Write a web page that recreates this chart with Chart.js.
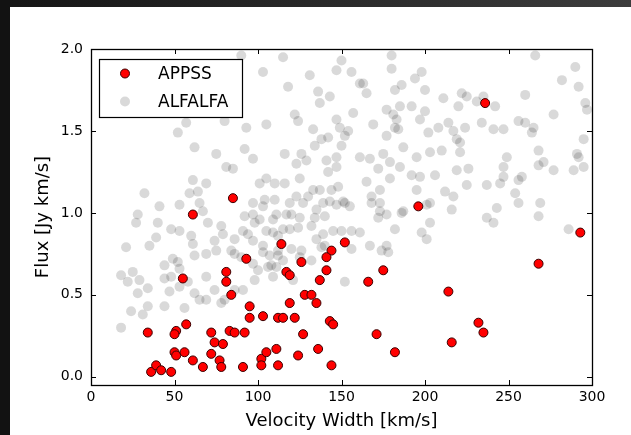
<!DOCTYPE html>
<html>
<head>
<meta charset="utf-8">
<script src="https://cdn.jsdelivr.net/npm/chart.js"></script>
<style>
  html, body { margin: 0; padding: 0; background: #fff; }
  canvas { display: block; }
</style>
</head>
<body>
<canvas id="chart" width="631" height="435"></canvas>
<script>
// APPSS (red) points
const appssWidth = [236, 61, 85, 93, 55, 81, 81, 84, 95, 95, 103, 112, 34, 51, 50, 57, 72, 83, 86, 92,
  74, 79, 50, 51, 56, 61, 72, 77, 67, 78, 91, 36, 39, 42, 48, 102, 102, 105, 111, 112,
  196, 293, 268, 214, 232, 235, 216, 171, 182, 175, 166, 152, 144, 141, 141, 137, 114, 126, 117, 119,
  128, 132, 119, 135, 115, 122, 143, 145, 127, 136, 124, 144];
const appssFlux = [1.67, 0.99, 1.09, 0.72, 0.60, 0.64, 0.58, 0.50, 0.43, 0.36, 0.37, 0.36, 0.27, 0.28, 0.26, 0.32, 0.27, 0.28, 0.27, 0.27,
  0.21, 0.20, 0.15, 0.13, 0.15, 0.10, 0.14, 0.10, 0.06, 0.06, 0.06, 0.03, 0.07, 0.04, 0.03, 0.11, 0.07, 0.15, 0.17, 0.07,
  1.04, 0.88, 0.69, 0.52, 0.33, 0.27, 0.21, 0.26, 0.15, 0.65, 0.58, 0.82, 0.77, 0.73, 0.65, 0.59, 0.81, 0.70, 0.64, 0.62,
  0.50, 0.50, 0.45, 0.45, 0.36, 0.36, 0.34, 0.32, 0.26, 0.17, 0.13, 0.07];

// ALFALFA (grey) points
const alfalfaWidth = [103, 131, 115, 90, 118, 136, 137, 143, 147, 122, 124, 133, 138, 142, 134, 116, 126, 129, 123, 141,
  147, 147, 142, 57, 52, 80, 93, 105, 62, 75, 92, 97, 81, 85, 101, 105, 110, 116, 125, 133,
  137, 130, 144, 148, 61, 69, 59, 64, 32, 41, 53, 65, 97, 104, 110, 119, 123, 139, 147, 150,
  180, 147, 156, 180, 198, 194, 161, 163, 165, 182, 186, 200, 211, 222, 225, 220, 231, 235, 242, 266,
  290, 282, 292, 260, 277, 296, 297, 157, 149, 154, 152, 150, 169, 177, 181, 183, 185, 192, 200, 197,
  182, 184, 177, 187, 202, 208, 214, 217, 224, 219, 221, 203, 210, 221, 234, 241, 247, 256, 260, 265,
  264, 295, 268, 249, 247, 247, 245, 237, 225, 226, 219, 195, 167, 161, 175, 179, 185, 172, 165, 173,
  179, 192, 197, 206, 195, 212, 151, 155, 168, 173, 217, 256, 258, 254, 256, 269, 268, 271, 277, 291,
  292, 289, 295, 243, 117, 111, 127, 135, 134, 140, 143, 152, 168, 173, 172, 177, 186, 187, 203, 201,
  216, 203, 198, 201, 182, 167, 174, 178, 177, 161, 156, 150, 156, 152, 145, 139, 135, 132, 124, 119,
  115, 125, 120, 109, 112, 120, 126, 125, 132, 107, 112, 115, 111, 109, 108, 121, 138, 140, 237, 241,
  268, 286, 28, 27, 40, 48, 53, 67, 70, 78, 79, 60, 61, 39, 21, 35, 49, 52, 44, 53,
  62, 69, 75, 84, 86, 74, 86, 91, 94, 92, 97, 98, 101, 103, 105, 109, 103, 103, 97, 90,
  97, 100, 98, 106, 112, 18, 25, 22, 29, 28, 34, 44, 48, 47, 53, 58, 62, 65, 69, 56,
  44, 34, 24, 31, 18, 74, 78, 80, 69, 86, 91];
const alfalfaFlux = [1.86, 1.84, 1.95, 1.96, 1.77, 1.74, 1.67, 1.71, 1.57, 1.60, 1.56, 1.51, 1.45, 1.46, 1.41, 1.36, 1.36, 1.32, 1.30, 1.32,
  1.34, 1.28, 1.25, 1.55, 1.49, 1.56, 1.52, 1.54, 1.40, 1.36, 1.39, 1.33, 1.28, 1.27, 1.18, 1.21, 1.18, 1.18, 1.21, 1.14,
  1.14, 1.10, 1.14, 1.16, 1.20, 1.18, 1.12, 1.13, 1.12, 1.04, 1.05, 1.06, 1.06, 1.08, 1.08, 1.06, 1.10, 1.06, 1.05, 1.93,
  1.96, 1.87, 1.86, 1.88, 1.86, 1.82, 1.79, 1.79, 1.73, 1.75, 1.78, 1.75, 1.70, 1.73, 1.71, 1.65, 1.68, 1.71, 1.65, 1.96,
  1.89, 1.81, 1.77, 1.72, 1.60, 1.67, 1.63, 1.61, 1.52, 1.50, 1.47, 1.41, 1.54, 1.63, 1.60, 1.57, 1.65, 1.65, 1.62, 1.57,
  1.52, 1.51, 1.47, 1.40, 1.49, 1.52, 1.55, 1.50, 1.52, 1.45, 1.43, 1.37, 1.38, 1.37, 1.55, 1.51, 1.51, 1.56, 1.55, 1.52,
  1.49, 1.45, 1.38, 1.34, 1.28, 1.22, 1.18, 1.17, 1.17, 1.27, 1.26, 1.34, 1.33, 1.34, 1.36, 1.31, 1.28, 1.27, 1.19, 1.14,
  1.21, 1.23, 1.22, 1.23, 1.14, 1.13, 1.07, 1.04, 1.10, 1.06, 1.10, 1.20, 1.22, 1.12, 1.06, 1.06, 1.29, 1.31, 1.26, 1.36,
  1.34, 1.26, 1.28, 1.03, 0.99, 0.99, 1.06, 1.02, 0.97, 0.98, 1.07, 1.06, 1.06, 1.01, 0.97, 0.99, 1.00, 1.01, 1.06, 1.05,
  1.02, 0.94, 0.88, 0.84, 0.90, 0.80, 0.77, 0.76, 0.80, 0.88, 0.89, 0.89, 0.78, 0.58, 0.89, 0.87, 0.84, 0.92, 0.91, 0.90,
  0.90, 0.97, 0.99, 0.88, 0.86, 0.78, 0.77, 0.73, 0.71, 0.74, 0.74, 0.71, 0.67, 0.61, 0.68, 0.59, 0.79, 0.80, 0.97, 0.94,
  0.98, 0.90, 0.99, 0.94, 0.94, 0.90, 0.89, 1.01, 0.94, 0.92, 0.87, 0.86, 0.81, 0.85, 0.79, 0.80, 0.72, 0.70, 0.68, 0.66,
  0.74, 0.75, 0.77, 0.77, 0.75, 0.83, 0.84, 0.89, 0.87, 0.98, 0.99, 0.94, 0.96, 1.04, 0.89, 0.96, 0.80, 0.76, 0.83, 0.73,
  0.69, 0.65, 0.59, 0.67, 0.77, 0.62, 0.64, 0.58, 0.59, 0.51, 0.54, 0.60, 0.61, 0.52, 0.55, 0.58, 0.51, 0.47, 0.47, 0.42,
  0.43, 0.43, 0.40, 0.38, 0.30, 0.53, 0.45, 0.47, 0.61, 0.53, 0.53];

const xTicks = [0, 50, 100, 150, 200, 250, 300];
const yTicks = [0.0, 0.5, 1.0, 1.5, 2.0];

const FONT = 'DejaVu Sans';

function toPoints(xs, ys) {
  return xs.map((x, i) => ({ x: x, y: ys[i] }));
}

// background frame, box axes with inward ticks, legend box
const framePlugin = {
  id: 'frame',
  beforeDraw(chart) {
    const ctx = chart.ctx;
    ctx.save();
    ctx.fillStyle = '#fff';
    ctx.fillRect(0, 0, chart.width, chart.height);
    const g = ctx.createLinearGradient(0, 0, chart.width, 0);
    g.addColorStop(0, '#151515');
    g.addColorStop(1, '#3c3c3c');
    ctx.fillStyle = g;
    ctx.fillRect(0, 0, chart.width, 7);
    ctx.fillStyle = '#121212';
    ctx.fillRect(0, 0, 10, chart.height);
    ctx.restore();
  },
  afterDraw(chart) {
    const ctx = chart.ctx;
    const a = chart.chartArea;
    const xs = chart.scales.x, ys = chart.scales.y;
    ctx.save();
    ctx.strokeStyle = '#000';
    ctx.lineWidth = 1;
    ctx.beginPath();
    xTicks.forEach(v => {
      const px = Math.round(xs.getPixelForValue(v)) + 0.5;
      ctx.moveTo(px, a.bottom); ctx.lineTo(px, a.bottom - 5);
      ctx.moveTo(px, a.top); ctx.lineTo(px, a.top + 5);
    });
    yTicks.forEach(v => {
      const py = Math.round(ys.getPixelForValue(v)) + 0.5;
      ctx.moveTo(a.left, py); ctx.lineTo(a.left + 5, py);
      ctx.moveTo(a.right, py); ctx.lineTo(a.right - 5, py);
    });
    ctx.stroke();
    ctx.lineWidth = 1.3;
    ctx.strokeRect(Math.round(a.left) + 0.5, Math.round(a.top) + 0.5,
      Math.round(a.right - a.left), Math.round(a.bottom - a.top));

    // legend
    const lx = 99.5, ly = 59.5, lw = 143, lh = 58;
    ctx.fillStyle = '#fff';
    ctx.fillRect(lx, ly, lw, lh);
    ctx.lineWidth = 1.2;
    ctx.strokeRect(lx, ly, lw, lh);
    const items = chart.data.datasets;
    items.forEach((ds, i) => {
      const cy = 73.5 + i * 28;
      ctx.beginPath();
      ctx.arc(125, cy, ds.pointRadius, 0, Math.PI * 2);
      ctx.fillStyle = ds.backgroundColor;
      ctx.fill();
      if (ds.borderWidth) {
        ctx.lineWidth = ds.borderWidth;
        ctx.strokeStyle = ds.borderColor;
        ctx.stroke();
      }
      ctx.fillStyle = '#000';
      ctx.font = '17px "' + FONT + '"';
      ctx.textAlign = 'left';
      ctx.textBaseline = 'middle';
      ctx.fillText(ds.label, 158, cy + 1);
    });
    ctx.restore();
  }
};

new Chart(document.getElementById('chart'), {
  type: 'scatter',
  data: {
    datasets: [
      {
        label: 'APPSS',
        data: toPoints(appssWidth, appssFlux),
        backgroundColor: '#ff0000',
        borderColor: '#3a0000',
        borderWidth: 1,
        pointRadius: 4.5,
        clip: 0
      },
      {
        label: 'ALFALFA',
        data: toPoints(alfalfaWidth, alfalfaFlux),
        backgroundColor: 'rgba(0,0,0,0.15)',
        borderColor: 'rgba(0,0,0,0)',
        borderWidth: 0,
        pointRadius: 5,
        clip: 0
      }
    ]
  },
  options: {
    responsive: false,
    animation: false,
    devicePixelRatio: 1,
    layout: { padding: { left: 10, top: 49, right: 39, bottom: 0 } },
    plugins: {
      legend: { display: false },
      tooltip: { enabled: false }
    },
    scales: {
      x: {
        type: 'linear',
        min: 0,
        max: 300,
        grid: { display: false, drawTicks: false },
        border: { display: false },
        afterBuildTicks: s => { s.ticks = xTicks.map(v => ({ value: v })); },
        afterFit: s => { s.height = 50; },
        ticks: {
          color: '#000',
          padding: 4,
          maxRotation: 0,
          font: { family: FONT, size: 14 },
          callback: v => String(v)
        },
        title: {
          display: true,
          text: 'Velocity Width [km/s]',
          color: '#000',
          font: { family: FONT, size: 18 },
          padding: { top: 0, bottom: 3 }
        }
      },
      y: {
        type: 'linear',
        min: -0.05,
        max: 2.0,
        grid: { display: false, drawTicks: false },
        border: { display: false },
        afterBuildTicks: s => { s.ticks = yTicks.map(v => ({ value: v })); },
        afterFit: s => { s.width = 81; },
        ticks: {
          color: '#000',
          padding: 8,
          font: { family: FONT, size: 14 },
          callback: v => v.toFixed(1)
        },
        title: {
          display: true,
          text: 'Flux [Jy km/s]',
          color: '#000',
          font: { family: FONT, size: 18 },
          padding: { top: 23, bottom: 0 }
        }
      }
    }
  },
  plugins: [framePlugin]
});
</script>
</body>
</html>
